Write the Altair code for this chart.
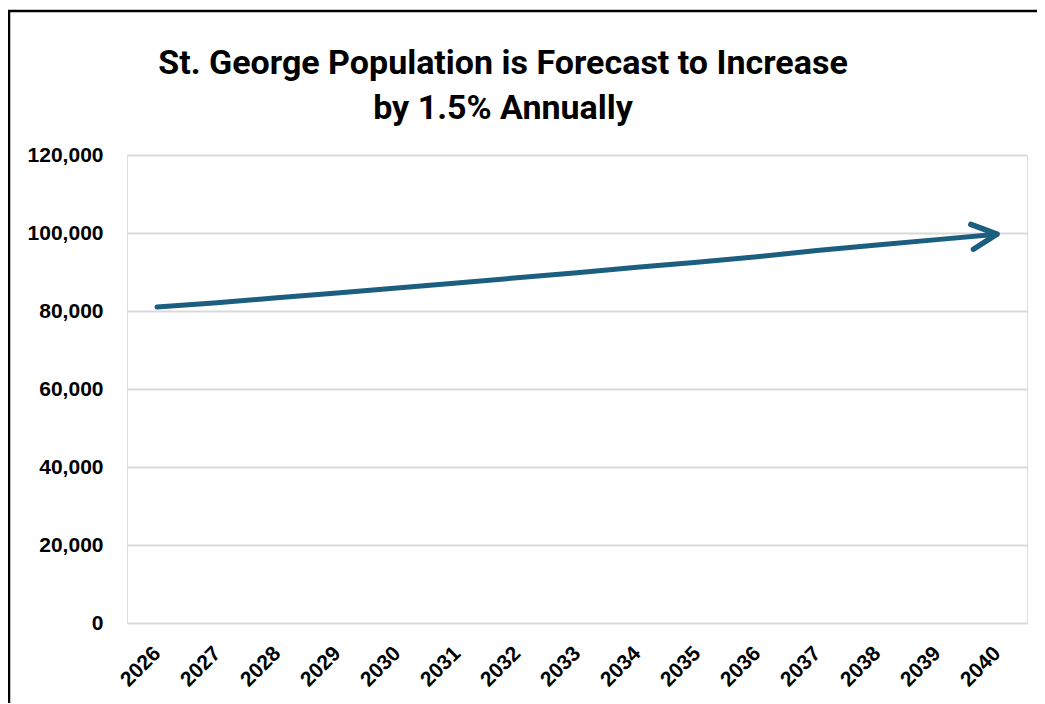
import altair as alt
import pandas as pd

years = [str(y) for y in range(2026, 2041)]
population = [81000, 82100, 83400, 84600, 85900, 87200, 88500, 89800,
              91200, 92500, 93900, 95500, 96900, 98300, 99700]
y_ticks = [0, 20000, 40000, 60000, 80000, 100000, 120000]
title_lines = ["St. George Population is Forecast to Increase", "by 1.5% Annually"]

LINE_COLOR = "#1b5e80"

df = pd.DataFrame({"year": years, "population": population})

x_enc = alt.X(
    "year:O",
    scale=alt.Scale(type="point", padding=0.5),
    axis=alt.Axis(
        title=None, domain=False, ticks=False, grid=False,
        labelAngle=315, labelAlign="right", labelBaseline="middle",
        labelPadding=27, labelFont="Liberation Sans", labelFontSize=21,
        labelFontWeight="bold", labelColor="black",
    ),
)
y_enc = alt.Y(
    "population:Q",
    scale=alt.Scale(domain=[0, 120000], nice=False),
    axis=alt.Axis(
        title=None, domain=False, ticks=False, grid=True,
        gridColor="#d9d9d9", gridWidth=2, values=y_ticks, format=",d",
        labelPadding=24, labelFont="Liberation Sans", labelFontSize=21,
        labelFontWeight="bold", labelColor="black",
    ),
)

frame = alt.Chart(alt.Data(values=[{}])).mark_rect(
    fill=None, stroke="black", strokeWidth=2.5
).encode(
    x=alt.value(-118), x2=alt.value(940), y=alt.value(-144), y2=alt.value(600)
)

line = alt.Chart(df).mark_line(
    color=LINE_COLOR, strokeWidth=5, strokeCap="round", strokeJoin="round"
).encode(x=x_enc, y=y_enc)

arrow = alt.Chart(df).transform_filter(
    alt.datum.year == years[-1]
).mark_point(
    shape="M-1,-0.5L0,0L-1,0.5", size=2500, filled=False, stroke=LINE_COLOR,
    strokeWidth=5.5, strokeCap="round", strokeJoin="round", angle=354, opacity=1,
).encode(x=x_enc, y=y_enc)

chart = alt.layer(frame, line, arrow).properties(
    width=900,
    height=468,
    autosize="none",
    padding={"left": 119, "top": 147, "right": 10, "bottom": 80},
    title=alt.TitleParams(
        text=title_lines, font="Roboto", fontSize=34,
        fontWeight="bold", color="black", anchor="middle", frame="group",
        lineHeight=45, baseline="bottom", offset=0, dx=-74, dy=150,
    ),
).configure_view(stroke=None).configure(background="white")

chart.save("out.html", embed_options={"renderer": "svg", "actions": False})
